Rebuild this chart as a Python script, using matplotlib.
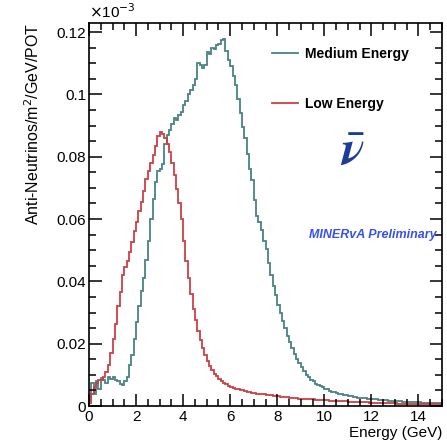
import numpy as np
import matplotlib
matplotlib.use("Agg")
import matplotlib.pyplot as plt
from matplotlib.ticker import MultipleLocator, FuncFormatter
from matplotlib.font_manager import FontProperties
from matplotlib.mathtext import MathTextParser

plt.rcParams['font.family'] = ['Liberation Sans', 'DejaVu Sans']

# Bin edges: 0 to 15 GeV, 0.1 GeV bins
bin_lo = 0.0
bin_hi = 15.0
n_bins = 150

low_energy = [
    0.0010, 0.0040, 0.0062, 0.0075, 0.0082, 0.0085, 0.0092, 0.0108, 0.0130, 0.0170,
    0.0215, 0.0262, 0.0320, 0.0365, 0.0420, 0.0445, 0.0465, 0.0495, 0.0525, 0.0560,
    0.0590, 0.0625, 0.0655, 0.0690, 0.0730, 0.0755, 0.0780, 0.0805, 0.0835, 0.0865,
    0.0880, 0.0872, 0.0860, 0.0840, 0.0815, 0.0780, 0.0740, 0.0695, 0.0650, 0.0600,
    0.0530, 0.0465, 0.0410, 0.0360, 0.0310, 0.0275, 0.0240, 0.0212, 0.0185, 0.0165,
    0.0145, 0.0128, 0.0115, 0.0104, 0.0095, 0.0088, 0.0080, 0.0074, 0.0069, 0.0065,
    0.0062, 0.0059, 0.0056, 0.0054, 0.0052, 0.0050, 0.0048, 0.0046, 0.0045, 0.0043,
    0.0042, 0.0040, 0.0039, 0.0038, 0.0037, 0.0036, 0.0035, 0.0034, 0.0033, 0.0032,
    0.0031, 0.0030, 0.0029, 0.0028, 0.0028, 0.0027, 0.0026, 0.0025, 0.0025, 0.0024,
    0.0023, 0.0023, 0.0022, 0.0022, 0.0021, 0.0021, 0.0020, 0.0020, 0.0019, 0.0019,
    0.0018, 0.0018, 0.0017, 0.0017, 0.0017, 0.0016, 0.0016, 0.0015, 0.0015, 0.0015,
    0.0014, 0.0014, 0.0014, 0.0013, 0.0013, 0.0013, 0.0012, 0.0012, 0.0012, 0.0011,
    0.0011, 0.0011, 0.0011, 0.0010, 0.0010, 0.0010, 0.0010, 0.0009, 0.0009, 0.0009,
    0.0009, 0.0008, 0.0008, 0.0008, 0.0008, 0.0008, 0.0007, 0.0007, 0.0007, 0.0007,
    0.0007, 0.0006, 0.0006, 0.0006, 0.0006, 0.0006, 0.0005, 0.0005, 0.0005, 0.0005,
]

medium_energy = [
    0.0020, 0.0075, 0.0040, 0.0080, 0.0055, 0.0090, 0.0085, 0.0075, 0.0092, 0.0088,
    0.0093, 0.0083, 0.0080, 0.0072, 0.0067, 0.0080, 0.0093, 0.0130, 0.0165, 0.0215,
    0.0270, 0.0320, 0.0370, 0.0410, 0.0470, 0.0530, 0.0600, 0.0665, 0.0720, 0.0755,
    0.0762, 0.0775, 0.0840, 0.0870, 0.0885, 0.0905, 0.0925, 0.0918, 0.0935, 0.0945,
    0.0965, 0.0980, 0.1000, 0.1015, 0.1030, 0.1050, 0.1100, 0.1095, 0.1085, 0.1095,
    0.1135, 0.1130, 0.1150, 0.1145, 0.1160, 0.1162, 0.1175, 0.1178, 0.1140, 0.1110,
    0.1090, 0.1060, 0.1030, 0.0985, 0.0940, 0.0895, 0.0860, 0.0810, 0.0760, 0.0725,
    0.0660, 0.0610, 0.0590, 0.0565, 0.0530, 0.0505, 0.0460, 0.0420, 0.0385, 0.0355,
    0.0325, 0.0300, 0.0272, 0.0250, 0.0225, 0.0205, 0.0185, 0.0168, 0.0152, 0.0138,
    0.0125, 0.0112, 0.0100, 0.0092, 0.0085, 0.0080, 0.0072, 0.0068, 0.0063, 0.0060,
    0.0056, 0.0053, 0.0049, 0.0046, 0.0044, 0.0042, 0.0039, 0.0037, 0.0036, 0.0034,
    0.0032, 0.0031, 0.0030, 0.0028, 0.0027, 0.0026, 0.0026, 0.0025, 0.0024, 0.0023,
    0.0022, 0.0021, 0.0021, 0.0020, 0.0019, 0.0019, 0.0018, 0.0017, 0.0017, 0.0016,
    0.0016, 0.0015, 0.0015, 0.0014, 0.0014, 0.0013, 0.0013, 0.0013, 0.0012, 0.0012,
    0.0012, 0.0011, 0.0011, 0.0011, 0.0010, 0.0010, 0.0010, 0.0009, 0.0009, 0.0009,
]

x_major_step = 2
x_minor_step = 0.5
y_major_step = 0.02
y_minor_step = 0.005

edges = np.linspace(bin_lo, bin_hi, n_bins + 1)

W, H = 447, 444
fig = plt.figure(figsize=(W / 100, H / 100), dpi=100)
ax = fig.add_axes([89 / W, 1 - 406 / H, (442 - 89) / W, (406 - 23) / H])

teal = '#4a8282'
red = '#cc3f44'
h_me = ax.stairs(medium_energy, edges, color=teal, linewidth=1.3, baseline=None,
                 label='Medium Energy')
h_le = ax.stairs(low_energy, edges, color=red, linewidth=1.3, baseline=None,
                 label='Low Energy')

ax.set_xlim(0, 15)
ax.set_ylim(0, 0.1229)

ax.xaxis.set_major_locator(MultipleLocator(x_major_step))
ax.xaxis.set_minor_locator(MultipleLocator(x_minor_step))
ax.yaxis.set_major_locator(MultipleLocator(y_major_step))
ax.yaxis.set_minor_locator(MultipleLocator(y_minor_step))
fmt = FuncFormatter(lambda v, p: ('%.2f' % v).rstrip('0').rstrip('.') if abs(v) > 1e-9 else '0')
ax.xaxis.set_major_formatter(FuncFormatter(lambda v, p: '%d' % round(v)))
ax.yaxis.set_major_formatter(fmt)

ax.tick_params(which='both', direction='in', top=True, right=True,
               labelsize=11, width=1.1, colors='black')
ax.tick_params(which='major', length=9)
ax.tick_params(which='minor', length=5)
ax.tick_params(axis='y', which='major', pad=2)
ax.tick_params(axis='x', which='major', pad=3)
for s in ax.spines.values():
    s.set_linewidth(1.2)

ax.set_ylabel(r'Anti-Neutrinos/m$^2$/GeV/POT', loc='top', fontsize=11.5)
ax.yaxis.set_label_coords(-(89 - 42) / 353, 1.0)
ax.set_xlabel('Energy (GeV)', loc='right', fontsize=11)
ax.xaxis.set_label_coords(1.0, -(426 - 406) / 383)

ax.text(0.0, 1.004, r'$\times$10$^{-3}$', transform=ax.transAxes,
        ha='left', va='bottom', fontsize=11)

leg = ax.legend(handles=[h_me, h_le], loc='upper left',
                bbox_to_anchor=((272 - 89) / 353, 1 - (47 - 23) / 383),
                frameon=False, borderpad=0, borderaxespad=0,
                handlelength=1.9, handletextpad=0.5, labelspacing=2.6,
                prop={'weight': 'bold', 'size': 10})

nu_str = r'$\bar{\mathbfit{\nu}}$'
try:
    MathTextParser('agg').parse(nu_str, 72, FontProperties(size=30, math_fontfamily='stix'))
except Exception:
    nu_str = r'$\bar{\boldsymbol{\nu}}$'
ax.text((352 - 89) / 353, 1 - (152 - 23) / 383, nu_str,
        transform=ax.transAxes, ha='center', va='center', fontsize=35,
        color='#1a3d9c', math_fontfamily='stix')

ax.text((437 - 89) / 353, 1 - (235 - 23) / 383, 'MINERvA Preliminary',
        transform=ax.transAxes, ha='right', va='center', fontsize=9,
        fontweight='bold', fontstyle='italic', color='#3552ee')

fig.savefig('out.png', dpi=100)
